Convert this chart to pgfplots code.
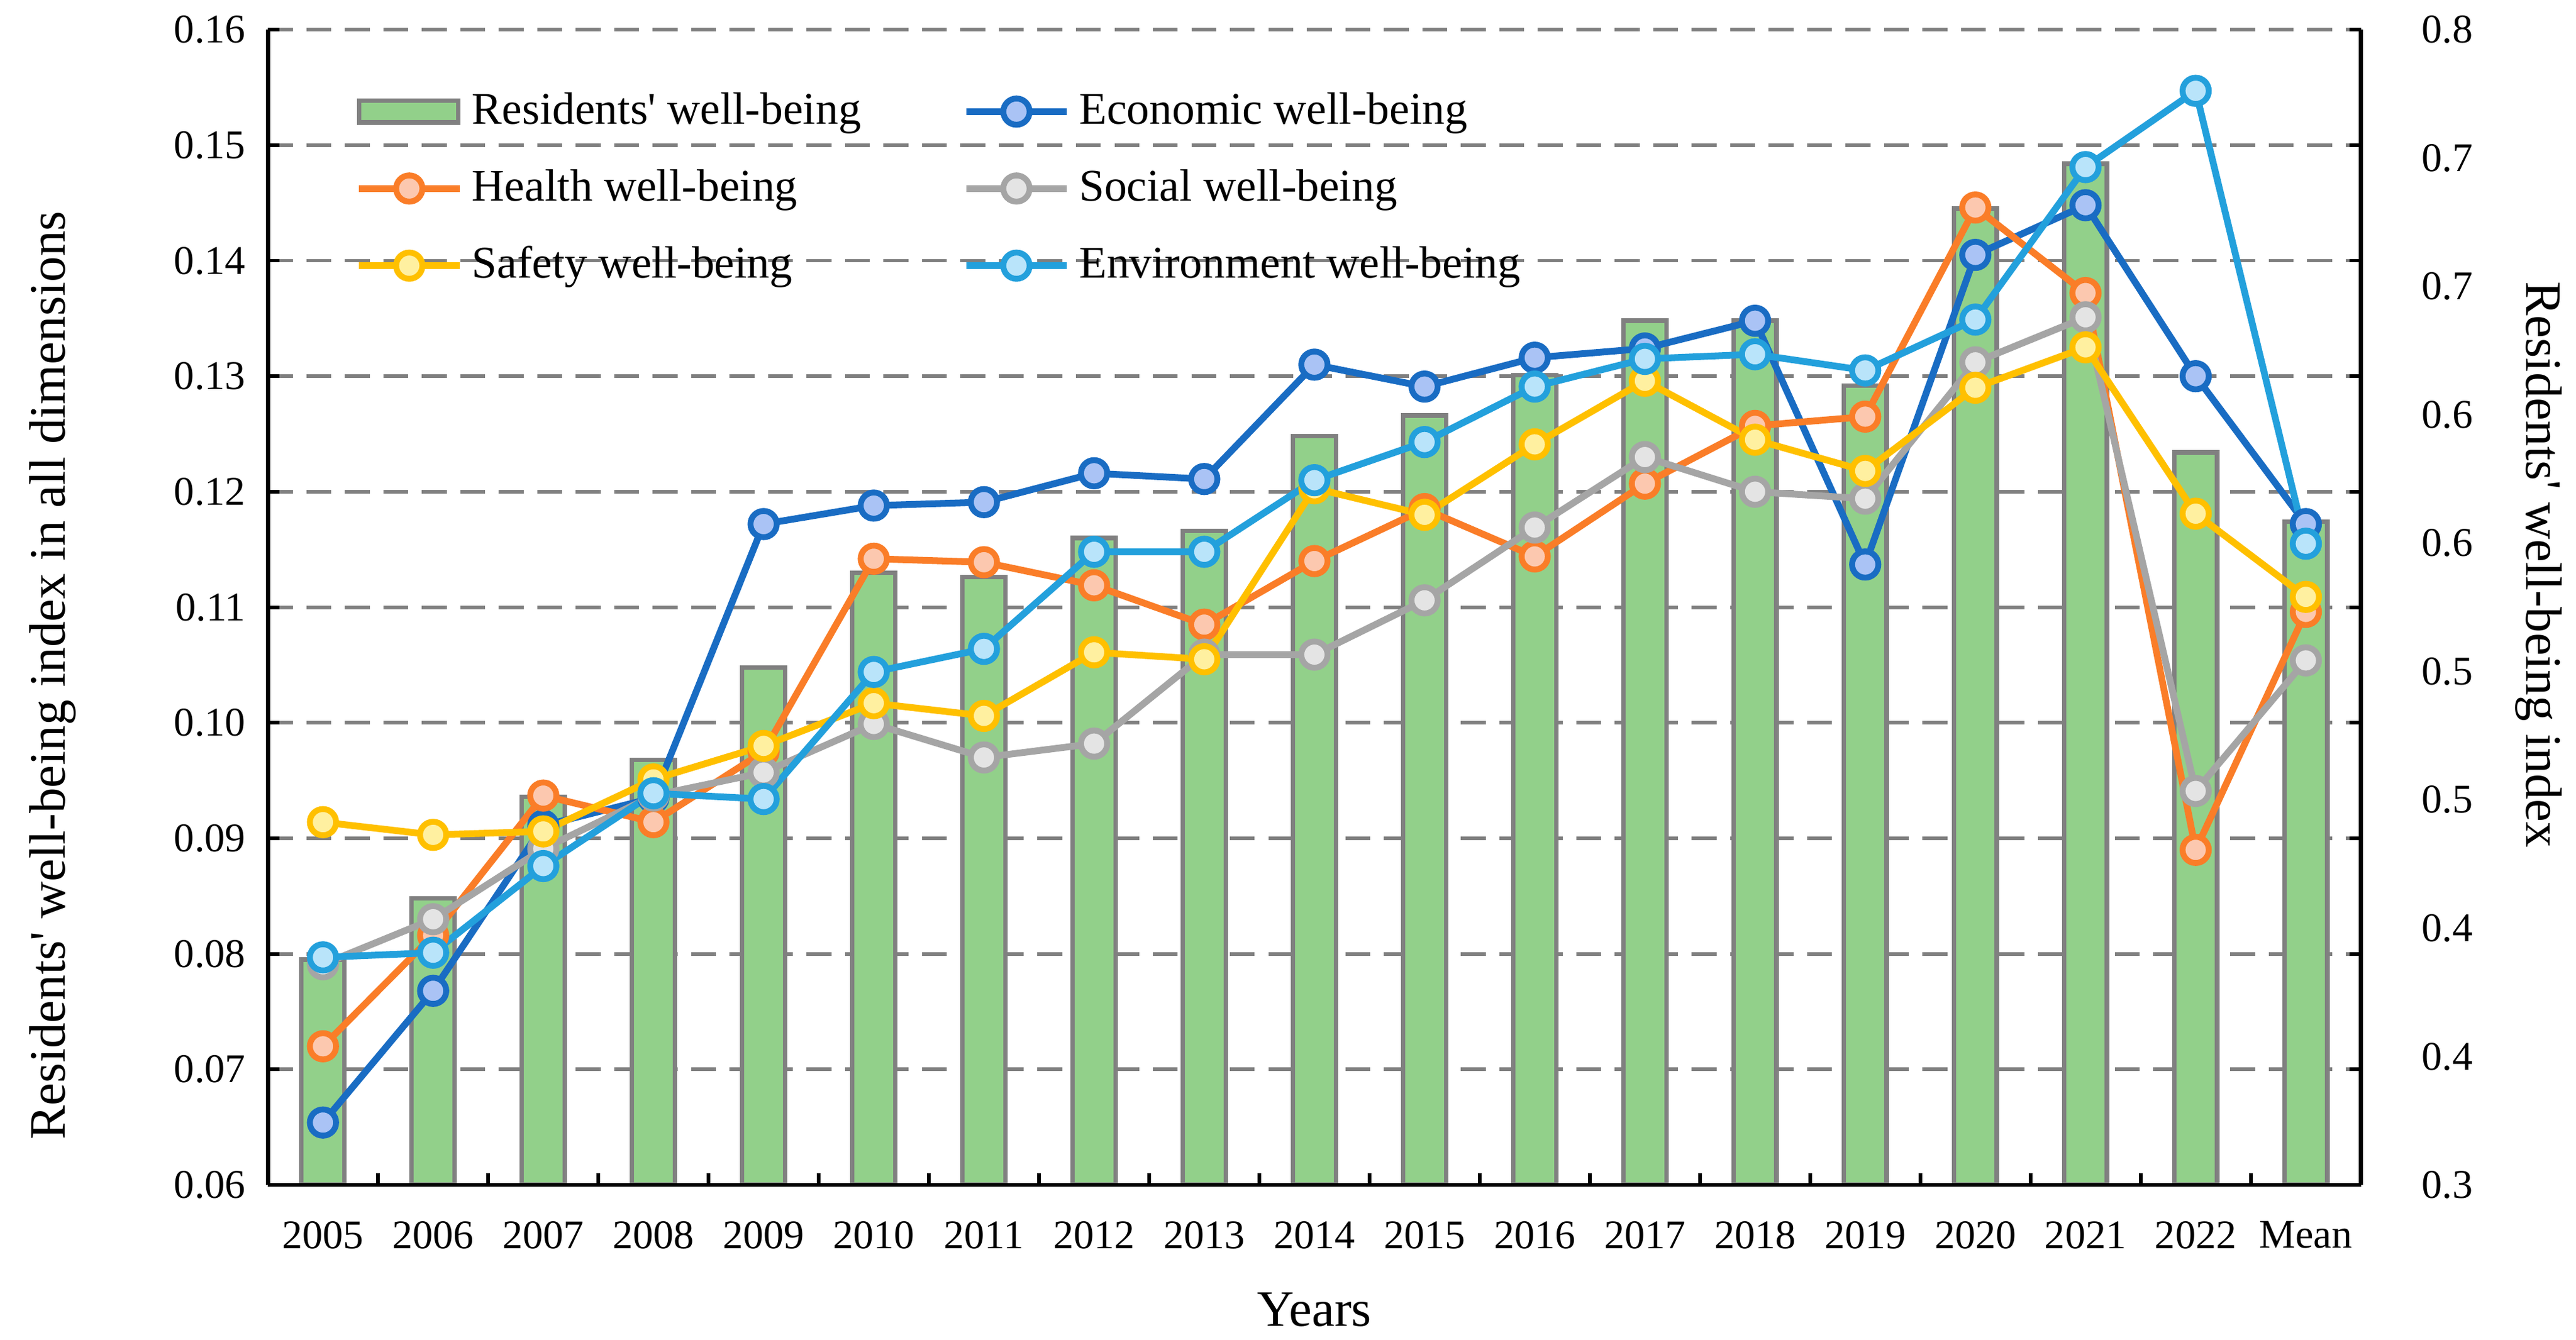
\documentclass[border=0pt]{standalone}
\usepackage{fontspec}
\setmainfont{Liberation Serif}[Ligatures=TeXOff]
\usepackage{pgfplots}
\usepackage{pgfplotstable}
\pgfplotsset{compat=1.18}

\definecolor{barfill}{RGB}{146,208,138}
\definecolor{baredge}{RGB}{128,128,128}
\definecolor{econ}{RGB}{25,108,195}
\definecolor{econfill}{RGB}{170,195,245}
\definecolor{health}{RGB}{250,125,40}
\definecolor{healthfill}{RGB}{252,200,175}
\definecolor{social}{RGB}{165,165,165}
\definecolor{socialfill}{RGB}{228,228,228}
\definecolor{safety}{RGB}{255,192,0}
\definecolor{safetyfill}{RGB}{255,240,160}
\definecolor{env}{RGB}{35,160,220}
\definecolor{envfill}{RGB}{185,228,250}

\pgfplotstableread{
x  bar    econ   health social safety env
0  0.3975 0.0654 0.0720 0.0791 0.0914 0.0797
1  0.4240 0.0768 0.0816 0.0830 0.0903 0.0801
2  0.4680 0.0911 0.0937 0.0891 0.0906 0.0876
3  0.4840 0.0935 0.0914 0.0937 0.0951 0.0939
4  0.5240 0.1172 0.0975 0.0957 0.0980 0.0934
5  0.5650 0.1188 0.1142 0.0999 0.1017 0.1044
6  0.5630 0.1191 0.1139 0.0970 0.1006 0.1064
7  0.5800 0.1216 0.1119 0.0982 0.1061 0.1148
8  0.5830 0.1211 0.1085 0.1059 0.1055 0.1148
9  0.6240 0.1310 0.1140 0.1059 0.1203 0.1210
10 0.6330 0.1291 0.1185 0.1106 0.1180 0.1243
11 0.6505 0.1316 0.1144 0.1169 0.1241 0.1291
12 0.6740 0.1324 0.1207 0.1230 0.1296 0.1315
13 0.6740 0.1348 0.1257 0.1200 0.1245 0.1319
14 0.6460 0.1137 0.1265 0.1194 0.1218 0.1305
15 0.7225 0.1405 0.1446 0.1312 0.1290 0.1349
16 0.7420 0.1448 0.1372 0.1351 0.1325 0.1481
17 0.6170 0.1300 0.0890 0.0941 0.1181 0.1547
18 0.5870 0.1172 0.1096 0.1054 0.1109 0.1155
}\data

\begin{document}
\begin{tikzpicture}
% ---------- bars on the right axis ----------
\begin{axis}[
  name=barax,
  scale only axis, width=16.25cm, height=8.97cm,
  xmin=-0.5, xmax=18.5, ymin=0.3, ymax=0.8,
  hide x axis,
  axis y line*=right,
  y axis line style={draw=none},
  ytick={0.3,0.355556,0.411111,0.466667,0.522222,0.577778,0.633333,0.688889,0.744444,0.8},
  yticklabels={0.3,0.4,0.4,0.5,0.5,0.6,0.6,0.7,0.7,0.8},
  major tick length=0pt,
  ytick style={draw=none},
  yticklabel style={font=\fontsize{9}{10}\selectfont, xshift=0.35cm},
  extra y ticks={0.35,0.4,0.45,0.5,0.55,0.6,0.65,0.7,0.75,0.8},
  extra y tick labels={},
  extra y tick style={grid=major, major grid style={draw=baredge, line width=0.8pt, dash pattern=on 5.5pt off 3pt}},
  ylabel={Residents' well-being index},
  ylabel style={at={(axis description cs:1.085,0.537)}, anchor=center, rotate=180, font=\fontsize{11.3}{13}\selectfont},
]
\addplot[ybar, bar width=0.39, bar shift=0pt, fill=barfill, draw=baredge, line width=1pt] table[x=x,y=bar]{\data};
\end{axis}
% ---------- lines on the left axis ----------
\begin{axis}[
  scale only axis, width=16.25cm, height=8.97cm,
  xmin=-0.5, xmax=18.5, ymin=0.06, ymax=0.16,
  axis x line*=bottom, axis y line*=box,
  axis line style={black, line width=0.9pt},
  tick align=inside,
  major tick length=0.09cm,
  xtick={0,...,18},
  xticklabels={2005,2006,2007,2008,2009,2010,2011,2012,2013,2014,2015,2016,2017,2018,2019,2020,2021,2022,Mean},
  xtick style={draw=none},
  extra x ticks={0.5,1.5,2.5,3.5,4.5,5.5,6.5,7.5,8.5,9.5,10.5,11.5,12.5,13.5,14.5,15.5,16.5,17.5},
  extra x tick labels={},
  extra x tick style={xtick style={draw=black, line width=0.8pt}},
  ytick={0.06,0.07,0.08,0.09,0.10,0.11,0.12,0.13,0.14,0.15,0.16},
  ytick style={black, line width=0.8pt},
  /pgf/number format/fixed,
  /pgf/number format/fixed zerofill,
  /pgf/number format/precision=2,
  /pgf/number format/assume math mode=true,
  tick label style={font=\fontsize{9}{10}\selectfont},
  xticklabel style={yshift=-0.16cm},
  yticklabel style={xshift=-0.05cm},
  xlabel={Years},
  xlabel style={at={(axis description cs:0.5,-0.108)}, anchor=center, font=\fontsize{11.3}{13}\selectfont},
  ylabel={Residents' well-being index in all dimensions},
  ylabel style={at={(axis description cs:-0.1028,0.441)}, anchor=center, font=\fontsize{11.3}{13}\selectfont},
  legend columns=2,
  legend cell align=left,
  legend image code/.code={\draw[mark repeat=2,mark phase=2] plot coordinates {(0cm,0cm) (0.39cm,0cm) (0.78cm,0cm)};},
  legend style={draw=none, fill=none, font=\fontsize{10}{12}\selectfont,
    anchor=north west, at={(axis description cs:0.035,0.962)},
    row sep=0.16cm,
    nodes={inner xsep=2pt},
    /tikz/every even column/.append style={column sep=0.72cm}},
]
\addlegendimage{legend image code/.code={\draw[fill=barfill,draw=baredge,line width=1pt] (0cm,-0.085cm) rectangle (0.77cm,0.085cm);}}
\addlegendentry{Residents' well-being}
\addplot[econ, line width=1.5pt, mark=*, mark size=2.9pt, mark options={fill=econfill, draw=econ, line width=1.3pt}] table[x=x,y=econ]{\data};
\addlegendentry{Economic well-being}
\addplot[health, line width=1.5pt, mark=*, mark size=2.9pt, mark options={fill=healthfill, draw=health, line width=1.3pt}] table[x=x,y=health]{\data};
\addlegendentry{Health well-being}
\addplot[social, line width=1.5pt, mark=*, mark size=2.9pt, mark options={fill=socialfill, draw=social, line width=1.3pt}] table[x=x,y=social]{\data};
\addlegendentry{Social well-being}
\addplot[safety, line width=1.5pt, mark=*, mark size=2.9pt, mark options={fill=safetyfill, draw=safety, line width=1.3pt}] table[x=x,y=safety]{\data};
\addlegendentry{Safety well-being}
\addplot[env, line width=1.5pt, mark=*, mark size=2.9pt, mark options={fill=envfill, draw=env, line width=1.3pt}] table[x=x,y=env]{\data};
\addlegendentry{Environment well-being}
\end{axis}
\pgfresetboundingbox
\path ([xshift=-2.08cm, yshift=-1.2cm]barax.south west) rectangle ([xshift=1.67cm, yshift=0.23cm]barax.north east);
\end{tikzpicture}
\end{document}
